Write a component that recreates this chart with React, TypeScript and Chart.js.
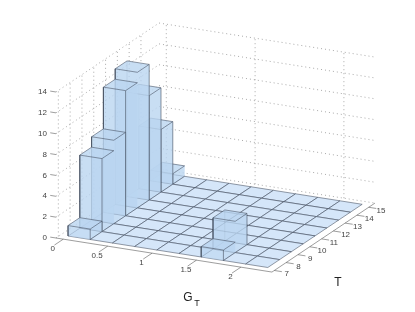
import React, { useEffect, useRef } from "react";
import { Chart, registerables } from "chart.js";

Chart.register(...registerables);

// ---- data ----
const gEdges = [0, 0.25, 0.5, 0.75, 1, 1.25, 1.5, 1.75, 2, 2.25];
const tEdges = [7.2, 8.2, 9.2, 10.2, 11.2, 12.2, 13.2, 14.2, 15.2];
const countsG0 = [1, 7, 8, 12, 13, 10, 6, 1];
const countsG1 = [0, 0, 0, 0, 0, 0, 0, 0];
const countsG2 = [0, 0, 0, 0, 0, 0, 0, 0];
const countsG3 = [0, 0, 0, 0, 0, 0, 0, 0];
const countsG4 = [0, 0, 0, 0, 0, 0, 0, 0];
const countsG5 = [0, 0, 0, 0, 0, 0, 0, 0];
const countsG6 = [1, 3, 0, 0, 0, 0, 0, 0];
const countsG7 = [0, 0, 0, 0, 0, 0, 0, 0];
const countsG8 = [0, 0, 0, 0, 0, 0, 0, 0];
const counts = [countsG0, countsG1, countsG2, countsG3, countsG4, countsG5, countsG6, countsG7, countsG8];

// vertical column edges the reference leaves without a stroke: [G bin, T boundary]
const unstrokedEdges = [
  [0, 2],
  [0, 4],
  [0, 8],
  [6, 1],
];

const gTicks = [0, 0.5, 1, 1.5, 2];
const gTickLabels = ["0", "0.5", "1", "1.5", "2"];
const gGrid = [0, 1, 2];
const tTicks = [7, 8, 9, 10, 11, 12, 13, 14, 15];
const tGrid = [7, 8, 9, 10, 11, 12, 13, 14];
const zTicks = [0, 2, 4, 6, 8, 10, 12, 14];

// ---- axes ranges ----
const gMin = -0.082;
const gMax = 2.35;
const tMin = 6.8;
const tMax = 15.53;

// ---- oblique projection of the three data axes on the plane ----
const project = (g: number, t: number, z: number) => ({
  x: 68 + 88.8 * g + 11.8 * (t - 7.2),
  y: 236 + 14 * g - 7.9 * (t - 7.2) - 10.43 * z,
});

const FACE = "rgba(186,213,240,0.55)";
const CELL = "rgba(202,224,247,0.8)";
const EDGE = "rgba(62,72,88,0.72)";
const EDGE_FAINT = "rgba(70,85,105,0.25)";
const GRID = "rgba(120,120,120,0.7)";
const AXIS = "rgba(80,80,80,0.7)";

type P = { x: number; y: number };

const segment = (pts: P[], color: string, width: number, dash: number[] = []) => ({
  data: pts,
  showLine: true,
  fill: false,
  borderColor: color,
  borderWidth: width,
  borderDash: dash,
  pointRadius: 0,
  tension: 0,
});

const face = (pts: P[], fillColor: string, stroked: boolean) => ({
  data: [...pts, pts[0]],
  showLine: true,
  fill: "shape",
  backgroundColor: fillColor,
  borderColor: stroked ? EDGE : "rgba(0,0,0,0)",
  borderWidth: stroked ? 0.75 : 0,
  pointRadius: 0,
  tension: 0,
});

const isStroked = (gi: number, tb: number) =>
  !unstrokedEdges.some(([a, b]) => a === gi && b === tb);

function buildDatasets() {
  const drawn: any[] = [];
  // walls
  for (const z of zTicks) {
    drawn.push(
      segment([project(gMin, tMin, z), project(gMin, tMax, z), project(gMax, tMax, z)], GRID, 0.9, [1, 3])
    );
  }
  for (const t of tGrid) {
    drawn.push(segment([project(gMin, t, 0), project(gMin, t, 14)], GRID, 0.9, [1, 3]));
  }
  for (const g of gGrid) {
    drawn.push(segment([project(g, tMax, 0), project(g, tMax, 14)], GRID, 0.9, [1, 3]));
  }
  // axes and ticks
  drawn.push(segment([project(gMin, tMin, 0), project(gMax, tMin, 0), project(gMax, tMax, 0)], AXIS, 0.8));
  for (const g of gTicks) {
    drawn.push(segment([project(g, tMin, 0), project(g, tMin - 0.75, 0)], AXIS, 0.8));
  }
  for (const t of tTicks) {
    drawn.push(segment([project(gMax, t, 0), project(gMax + 0.085, t, 0)], AXIS, 0.8));
  }
  for (const z of zTicks) {
    drawn.push(segment([project(gMin, tMin, z), project(gMin - 0.065, tMin, z)], AXIS, 0.8));
  }
  // columns, back to front
  for (let ti = tEdges.length - 2; ti >= 0; ti--) {
    for (let gi = 0; gi < gEdges.length - 1; gi++) {
      const row = counts[gi];
      const h = row[ti];
      const g0 = gEdges[gi];
      const g1 = gEdges[gi + 1];
      const t0 = tEdges[ti];
      const t1 = tEdges[ti + 1];
      const base = [project(g0, t0, 0), project(g1, t0, 0), project(g1, t1, 0), project(g0, t1, 0)];
      drawn.push(face(base, CELL, true));
      if (h > 0) {
        const top = [project(g0, t0, h), project(g1, t0, h), project(g1, t1, h), project(g0, t1, h)];
        drawn.push(face([base[3], base[2], top[2], top[3]], FACE, false));
        drawn.push(face([base[0], base[3], top[3], top[0]], FACE, false));
        drawn.push(segment([base[3], top[3]], EDGE_FAINT, 0.8));
        drawn.push(face([base[1], base[2], top[2], top[1]], FACE, false));
        drawn.push(face([base[0], base[1], top[1], top[0]], FACE, false));
        // left front edge: solid down to the column standing in front of it
        const nearer = ti > 0 ? Math.min(row[ti - 1], h) : 0;
        drawn.push(segment([top[0], project(g0, t0, nearer)], EDGE, 0.8));
        if (nearer > 0) drawn.push(segment([project(g0, t0, nearer), base[0]], EDGE_FAINT, 0.8));
        if (isStroked(gi, ti)) drawn.push(segment([base[1], top[1]], EDGE, 0.8));
        if (isStroked(gi, ti + 1)) drawn.push(segment([base[2], top[2]], EDGE, 0.8));
        drawn.push(face(top, FACE, true));
      }
    }
  }
  // chart.js paints the first dataset last
  return drawn.reverse();
}

const labelsPlugin = {
  id: "axisText",
  afterDraw(chart: any) {
    const { ctx, scales } = chart;
    const px = (p: P) => ({ x: scales.x.getPixelForValue(p.x), y: scales.y.getPixelForValue(p.y) });
    ctx.save();
    ctx.textBaseline = "middle";
    ctx.fillStyle = "#444";
    ctx.font = '8px "Liberation Sans"';
    ctx.textAlign = "center";
    gTicks.forEach((g, i) => {
      const p = px(project(g, tMin, 0));
      ctx.fillText(gTickLabels[i], p.x - 10.5, p.y + 10);
    });
    tTicks.forEach((t) => {
      const p = px(project(gMax, t, 0));
      ctx.fillText(String(t), p.x + 12.3, p.y + 3.8);
    });
    ctx.textAlign = "right";
    zTicks.forEach((z) => {
      const p = px(project(gMin, tMin, z));
      ctx.fillText(String(z), p.x - 9, p.y);
    });
    ctx.textAlign = "center";
    ctx.fillStyle = "#222";
    ctx.font = '12px "Liberation Sans"';
    ctx.fillText("G", 188, 298);
    ctx.fillText("T", 338, 283);
    ctx.font = '9px "Liberation Sans"';
    ctx.fillText("T", 197, 304);
    ctx.restore();
  },
};

export default function App() {
  const ref = useRef<HTMLCanvasElement>(null);
  useEffect(() => {
    document.body.style.margin = "0";
    const chart = new Chart(ref.current as HTMLCanvasElement, {
      type: "scatter",
      data: { datasets: buildDatasets() as any },
      options: {
        animation: false,
        responsive: false,
        devicePixelRatio: 1,
        layout: { padding: 0 },
        plugins: { legend: { display: false }, tooltip: { enabled: false } },
        scales: {
          x: { type: "linear", display: false, min: 0, max: 415 },
          y: { type: "linear", display: false, min: 0, max: 312, reverse: true },
        },
      },
      plugins: [labelsPlugin as any],
    });
    return () => chart.destroy();
  }, []);
  return <canvas ref={ref} width={415} height={312} style={{ display: "block" }} />;
}
